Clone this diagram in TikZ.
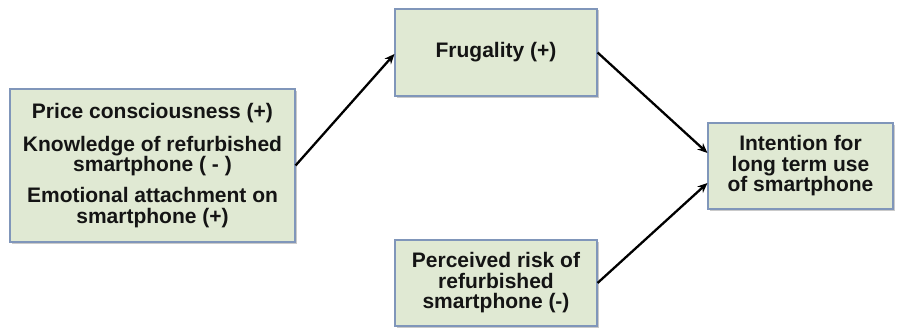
\documentclass[tikz,border=0pt]{standalone}
\usepackage{fontspec}
\setmainfont{Liberation Sans}
\usetikzlibrary{arrows.meta,calc,shadows}
\definecolor{boxfill}{RGB}{224,233,211}
\definecolor{boxline}{RGB}{128,150,186}
\definecolor{inktext}{RGB}{20,20,20}
\tikzset{
  factor/.style={draw=boxline, line width=1.1pt, fill=boxfill,
    drop shadow={shadow xshift=1.5pt, shadow yshift=-1.5pt, fill=black!35, opacity=0.6},
    align=center, text=inktext, inner sep=0pt,
    font=\bfseries\fontsize{21}{20.2}\selectfont},
  link/.style={line width=2.3pt, black, -{Stealth[length=10pt,width=8.5pt]}}
}
\begin{document}
\begin{tikzpicture}[x=1pt,y=-1pt]
\useasboundingbox (0,0) rectangle (897,329);

\node[factor, minimum width=285pt, minimum height=153pt] (ante) at (152.5,165.5)
  {Price consciousness (+)\\[12.5pt]
   Knowledge of refurbished\\
   smartphone ( - )\\[11pt]
   Emotional attachment on\\
   smartphone (+)};

\node[factor, minimum width=202pt, minimum height=87pt] (frug) at (496,52.5)
  {Frugality (+)};

\node[factor, minimum width=202pt, minimum height=86pt,
      font=\bfseries\fontsize{21}{20.5}\selectfont] (risk) at (496,283)
  {Perceived risk of\\ refurbished\\ smartphone (-)};

\node[factor, minimum width=185pt, minimum height=86pt,
      font=\bfseries\fontsize{21}{20.5}\selectfont] (intent) at (800.5,166)
  {Intention for\\ long term use\\ of smartphone};

\draw[link] (ante.east) -- ($(frug.west)+(0,1.5)$);
\draw[link] (frug.east) -- ($(intent.west)+(0,-13)$);
\draw[link] (risk.east) -- ($(intent.west)+(0,17)$);
\end{tikzpicture}
\end{document}
